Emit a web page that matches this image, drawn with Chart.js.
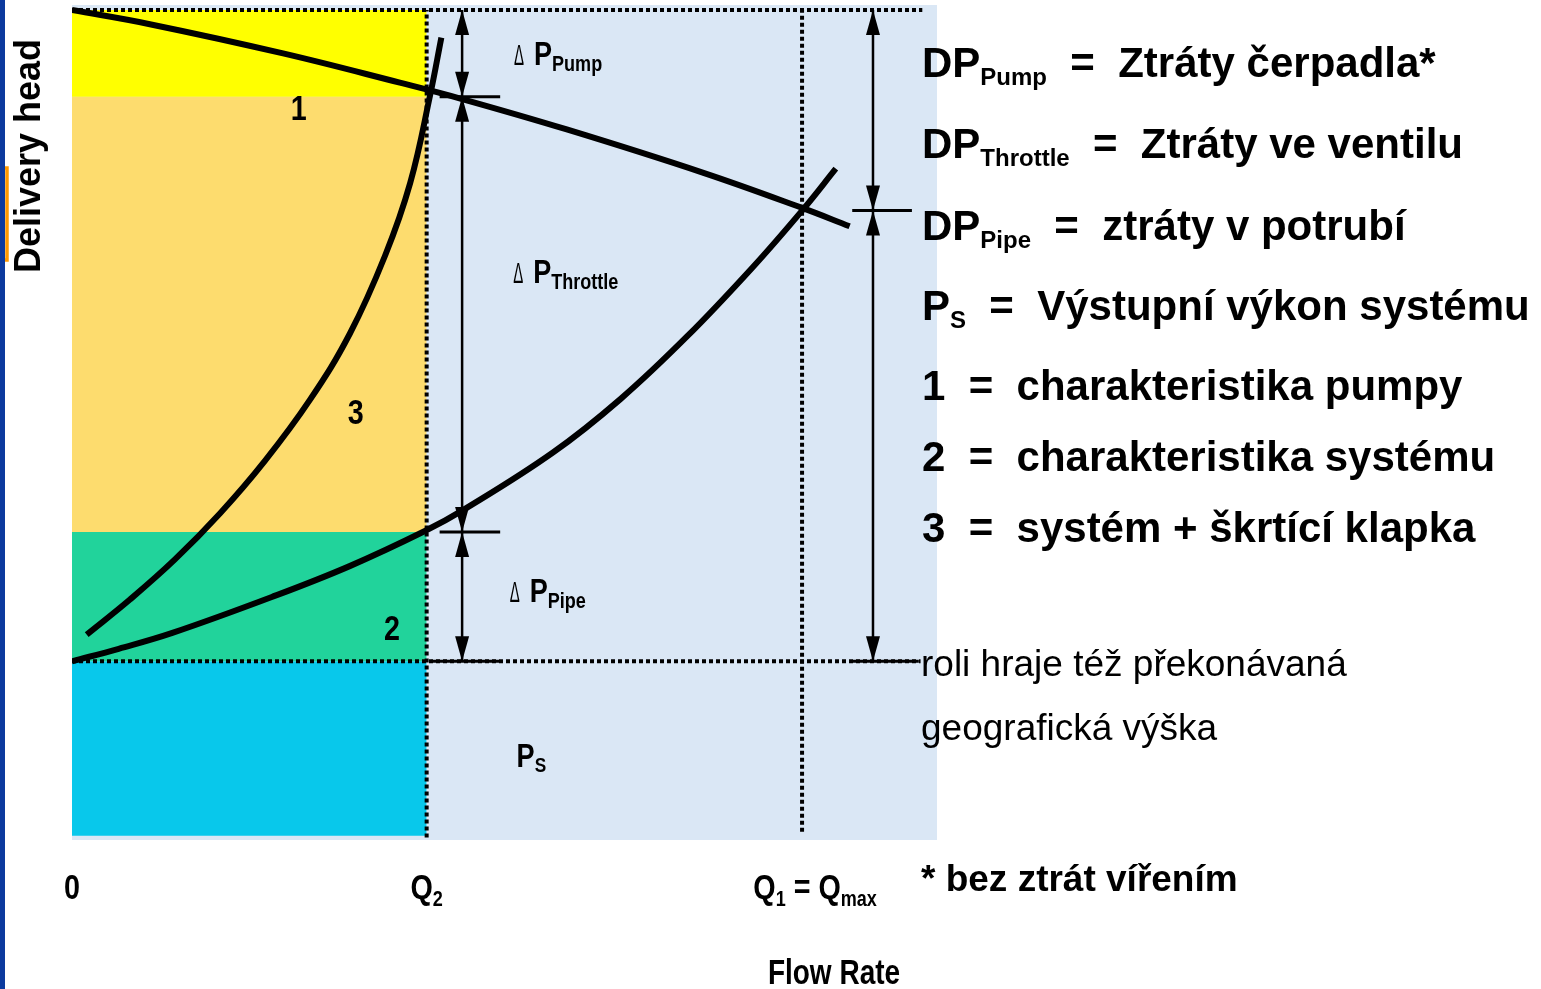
<!DOCTYPE html>
<html>
<head>
<meta charset="utf-8">
<title>Delivery head / Flow Rate</title>
<script src="https://cdn.jsdelivr.net/npm/chart.js@4.4.1/dist/chart.umd.min.js"></script>
<style>
    html, body { margin: 0; padding: 0; background: #fff; }
    #wrap { width: 1541px; height: 989px; }
</style>
</head>
<body>
<div id="wrap"><canvas id="pumpChart" width="1541" height="989"></canvas></div>
<script>
// Flow rate and delivery head, both in % of the drawn range
const q2 = 41.0;
const q1 = 84.4;

// 1 = pump characteristic
const pumpQ    = [0, 9.0, 24.4, 37.9, 44.9, 57.2, 73.0, 84.4, 89.9];
const pumpHead = [99.4, 97.7, 94.2, 90.7, 88.8, 85.1, 79.9, 75.7, 73.5];

// 2 = system characteristic
const systemQ    = [0, 5.4, 11.6, 23.1, 32.1, 40.8, 45.2, 55.6, 63.4, 71.1, 78.7, 84.5, 88.3];
const systemHead = [21.4, 22.9, 24.8, 29.1, 32.8, 37.0, 39.5, 46.4, 52.8, 60.3, 68.6, 75.5, 80.4];

// 3 = system + throttle
const throttleQ    = [1.7, 6.7, 11.9, 17.1, 22.3, 27.5, 32.1, 36.2, 39.1, 41.4, 42.7];
const throttleHead = [24.6, 28.8, 33.6, 39.1, 45.4, 52.7, 60.6, 70.0, 78.7, 89.2, 96.1];

// coloured bands at Q2 (from top to bottom)
const bandTop    = [99.4, 89.0, 36.9, 21.4];
const bandBottom = [89.0, 36.9, 21.4, 0.5];

// double arrows
const arrowQ    = [45.1, 45.1, 45.1, 92.6, 92.6];
const arrowFrom = [99.4, 89.0, 36.9, 99.4, 75.4];
const arrowTo   = [89.0, 36.9, 21.4, 75.4, 21.4];

// short solid marks across the arrows
const markHead = [89.0, 36.9, 21.4, 75.4, 21.4];
const markFrom = [42.5, 42.5, 41.5, 90.2, 90.2];
const markTo   = [49.5, 49.5, 49.5, 97.1, 97.9];

// axis labels (main, subscript, main, subscript ...)
const tickQ = [0, q2, q1];
const tickLabels = [['0'], ['Q', '2'], ['Q', '1', ' = Q', 'max']];

// right hand legend
const legendRows = [
    ['DP', 'Pump', '  =  Ztráty čerpadla*'],
    ['DP', 'Throttle', '  =  Ztráty ve ventilu'],
    ['DP', 'Pipe', '  =  ztráty v potrubí'],
    ['P', 'S', '  =  Výstupní výkon systému'],
    ['1', '', '  =  charakteristika pumpy'],
    ['2', '', '  =  charakteristika systému'],
    ['3', '', '  =  systém + škrtící klapka']
];

const FONT = '"Liberation Sans", Arial, sans-serif';
const bandColors = ['#ffff00', '#fddc6e', '#21d39b', '#08c8eb'];

function pts(xs, ys) {
    return xs.map((x, i) => ({ x: x, y: ys[i] }));
}

// text helper: parts alternate normal / subscript
function partsWidth(ctx, parts, st) {
    let w = 0;
    parts.forEach(function(p, i) {
        ctx.font = st.weight + ' ' + (i % 2 ? st.sub : st.size) + 'px ' + FONT;
        w += ctx.measureText(p).width * st.squeeze;
    });
    return w;
}

function drawParts(ctx, parts, x, y, st, align) {
    let cx = align === 'center' ? x - partsWidth(ctx, parts, st) / 2 : x;
    parts.forEach(function(p, i) {
        const isSub = i % 2 === 1;
        ctx.font = st.weight + ' ' + (isSub ? st.sub : st.size) + 'px ' + FONT;
        ctx.save();
        ctx.translate(cx, y + (isSub ? st.drop : 0));
        ctx.scale(st.squeeze, 1);
        ctx.textAlign = 'left';
        ctx.textBaseline = 'alphabetic';
        ctx.fillText(p, 0, 0);
        ctx.restore();
        cx += ctx.measureText(p).width * st.squeeze;
    });
}

const legendStyle = { weight: 'bold', size: 42, sub: 24, drop: 8, squeeze: 1 };
const axisStyle   = { weight: 'bold', size: 35, sub: 22, drop: 7, squeeze: 0.82 };
const deltaStyle  = { weight: 'bold', size: 33, sub: 22, drop: 6, squeeze: 0.82 };
const psStyle     = { weight: 'bold', size: 33, sub: 21, drop: 5, squeeze: 0.82 };
const numStyle    = { weight: 'bold', size: 35, sub: 20, drop: 0, squeeze: 0.82 };

// Background, arrowheads and all texts
const decorPlugin = {
    id: 'decor',
    beforeDraw(chart) {
        const ctx = chart.ctx;
        const a = chart.chartArea;
        ctx.save();
        ctx.fillStyle = '#ffffff';
        ctx.fillRect(0, 0, chart.width, chart.height);
        // orange frame and blue bar on the left edge
        ctx.strokeStyle = '#ff9900';
        ctx.lineWidth = 3.5;
        ctx.strokeRect(-10, 168, 17, 92);
        ctx.fillStyle = '#0c3a9e';
        ctx.fillRect(0, 0, 5, chart.height);
        // plot background
        ctx.fillStyle = '#dae7f5';
        ctx.fillRect(a.left, a.top, a.right - a.left, a.bottom - a.top);
        ctx.restore();
    },
    afterDatasetsDraw(chart) {
        const ctx = chart.ctx;
        const xs = chart.scales.x;
        const ys = chart.scales.y;
        ctx.save();
        ctx.fillStyle = '#000';

        // arrowheads
        arrowQ.forEach(function(q, i) {
            const px = xs.getPixelForValue(q);
            const top = ys.getPixelForValue(Math.max(arrowFrom[i], arrowTo[i]));
            const bot = ys.getPixelForValue(Math.min(arrowFrom[i], arrowTo[i]));
            ctx.beginPath();
            ctx.moveTo(px, top);
            ctx.lineTo(px - 7, top + 25);
            ctx.lineTo(px + 7, top + 25);
            ctx.closePath();
            ctx.fill();
            ctx.beginPath();
            ctx.moveTo(px, bot);
            ctx.lineTo(px - 7, bot - 25);
            ctx.lineTo(px + 7, bot - 25);
            ctx.closePath();
            ctx.fill();
        });

        // curve numbers
        [['1', 26.2, 86.2], ['3', 32.8, 49.8], ['2', 37.0, 24.0]].forEach(function(t) {
            drawParts(ctx, [t[0]], xs.getPixelForValue(t[1]), ys.getPixelForValue(t[2]), numStyle, 'center');
        });

        // delta P labels
        [['Pump', 51.1, 92.8], ['Throttle', 51.0, 66.7], ['Pipe', 50.6, 28.5]].forEach(function(t) {
            const px = xs.getPixelForValue(t[1]);
            const py = ys.getPixelForValue(t[2]);
            ctx.save();
            ctx.font = 'normal 30px ' + FONT;
            ctx.translate(px, py);
            ctx.scale(0.5, 1);
            ctx.textAlign = 'left';
            ctx.fillText('Δ', 0, 0);
            ctx.restore();
            drawParts(ctx, ['P', t[0]], px + 20, py, deltaStyle, 'left');
        });
        drawParts(ctx, ['P', 'S'], xs.getPixelForValue(51.4), ys.getPixelForValue(8.7), psStyle, 'left');

        // axis labels
        const tickShift = [0, 0, 13];
        tickQ.forEach(function(q, i) {
            drawParts(ctx, tickLabels[i], xs.getPixelForValue(q) + tickShift[i], 899, axisStyle, 'center');
        });
        drawParts(ctx, ['Flow Rate'], 834, 984, { weight: 'bold', size: 35, sub: 20, drop: 0, squeeze: 0.8 }, 'center');

        // y axis title
        ctx.save();
        ctx.translate(40, 156);
        ctx.rotate(-Math.PI / 2);
        ctx.font = 'bold 36px ' + FONT;
        ctx.textAlign = 'center';
        ctx.textBaseline = 'alphabetic';
        ctx.fillText('Delivery head', 0, 0);
        ctx.restore();

        // legend on the right
        const rowBase = [77, 158, 240, 320, 400, 471, 542];
        legendRows.forEach(function(row, i) {
            drawParts(ctx, row, 922, rowBase[i], legendStyle, 'left');
        });
        ctx.font = 'normal 37px ' + FONT;
        ctx.textAlign = 'left';
        ctx.fillText('roli hraje též překonávaná', 921, 676);
        ctx.fillText('geografická výška', 921, 740);
        ctx.font = 'bold 37px ' + FONT;
        ctx.fillText('* bez ztrát vířením', 921, 891);

        ctx.restore();
    }
};

const datasets = [];

// coloured bands
bandTop.forEach(function(top, i) {
    datasets.push({
        data: [{ x: 0, y: top }, { x: q2, y: top }],
        borderWidth: 0,
        backgroundColor: bandColors[i],
        fill: { value: bandBottom[i] },
        pointRadius: 0,
        order: 10
    });
});

// dotted guide lines
const guideLines = [
    [{ x: 0, y: 99.4 }, { x: 98.3, y: 99.4 }],
    [{ x: 0, y: 21.4 }, { x: 98.1, y: 21.4 }],
    [{ x: q2, y: 0.3 }, { x: q2, y: 99.4 }],
    [{ x: q1, y: 1.0 }, { x: q1, y: 99.4 }]
];
guideLines.forEach(function(line) {
    datasets.push({
        data: line,
        borderColor: '#000',
        borderWidth: 4,
        borderDash: [4, 3],
        pointRadius: 0,
        fill: false,
        order: 5
    });
});

// arrow shafts
arrowQ.forEach(function(q, i) {
    datasets.push({
        data: [{ x: q, y: arrowFrom[i] }, { x: q, y: arrowTo[i] }],
        borderColor: '#000',
        borderWidth: 2.5,
        pointRadius: 0,
        fill: false,
        order: 3
    });
});

// short marks
markHead.forEach(function(h, i) {
    datasets.push({
        data: [{ x: markFrom[i], y: h }, { x: markTo[i], y: h }],
        borderColor: '#000',
        borderWidth: 3,
        pointRadius: 0,
        fill: false,
        order: 3
    });
});

// characteristic curves
[[pumpQ, pumpHead], [systemQ, systemHead], [throttleQ, throttleHead]].forEach(function(c) {
    datasets.push({
        data: pts(c[0], c[1]),
        borderColor: '#000',
        borderWidth: 6,
        pointRadius: 0,
        fill: false,
        tension: 0.4,
        order: 1
    });
});

new Chart(document.getElementById('pumpChart'), {
    type: 'line',
    data: { datasets: datasets },
    options: {
        responsive: false,
        animation: false,
        layout: { padding: { left: 72, right: 604, top: 5, bottom: 149 } },
        scales: {
            x: { type: 'linear', min: 0, max: 100, display: false },
            y: { type: 'linear', min: 0, max: 100, display: false }
        },
        plugins: {
            legend: { display: false },
            tooltip: { enabled: false }
        }
    },
    plugins: [decorPlugin]
});
</script>
</body>
</html>
